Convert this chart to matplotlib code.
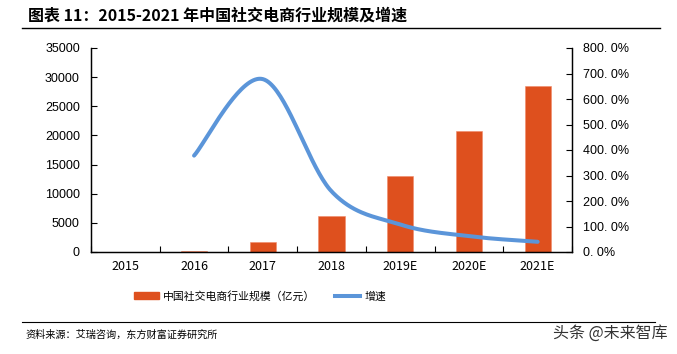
import matplotlib
matplotlib.use('Agg')
import matplotlib.pyplot as plt
import numpy as np
from matplotlib.patches import Patch
from matplotlib.lines import Line2D

plt.rcParams['font.family'] = ['Noto Sans CJK SC', 'DejaVu Sans']

years = ['2015', '2016', '2017', '2018', '2019E', '2020E', '2021E']
scale = [0, 150, 1770, 6230, 13100, 20760, 28480]       # 亿元
growth_years = ['2016', '2017', '2018', '2019E', '2020E', '2021E']
growth = [378, 678, 238, 108, 62, 40]                    # %

left_ticks = [0, 5000, 10000, 15000, 20000, 25000, 30000, 35000]
right_ticks = [0, 100, 200, 300, 400, 500, 600, 700, 800]

BAR = '#DE501E'
LINE = '#5B95D9'


def smooth(xs, ys, n=40):
    # catmull-rom through the points, like excel's smoothed line
    p = np.column_stack([xs, ys]).astype(float)
    p = np.vstack([p[0], p, p[-1]])
    out = []
    for i in range(1, len(p) - 2):
        p0, p1, p2, p3 = p[i - 1], p[i], p[i + 1], p[i + 2]
        b1 = p1 + (p2 - p0) / 6
        b2 = p2 - (p3 - p1) / 6
        t = np.linspace(0, 1, n)[:, None]
        seg = ((1 - t) ** 3 * p1 + 3 * (1 - t) ** 2 * t * b1
               + 3 * (1 - t) * t ** 2 * b2 + t ** 3 * p2)
        out.append(seg)
    out = np.vstack(out)
    return out[:, 0], out[:, 1]


fig = plt.figure(figsize=(6.77, 3.54), dpi=100)
ax1 = fig.add_axes([91 / 677, 1 - 252 / 354, 481 / 677, 204 / 354])
ax2 = ax1.twinx()

x = np.arange(len(years))
ax1.bar(x, scale, width=0.38, color=BAR, edgecolor='#F08A6A', linewidth=0.4, zorder=2)
ax1.set_xlim(-0.5, len(years) - 0.5)
ax1.set_ylim(0, 35000)
ax1.set_yticks(left_ticks)
ax1.set_yticklabels([str(v) for v in left_ticks], family=['Liberation Sans'], fontsize=9)

gx = [years.index(y) for y in growth_years]
sx, sy = smooth(gx, growth)
ax2.plot(sx, sy, color=LINE, lw=2.9, solid_capstyle='round', zorder=3)
ax2.set_ylim(0, 800)
ax2.set_yticks(right_ticks)
ax2.set_yticklabels([f'{v}. 0%' for v in right_ticks], family=['Liberation Sans'], fontsize=9)

ax1.set_xticks(np.arange(len(years) + 1) - 0.5, minor=False)
ax1.set_xticklabels([])
ax1.set_xticks(x, minor=True)
ax1.set_xticklabels(years, minor=True, fontsize=9)
ax1.tick_params(axis='x', which='major', direction='in', length=4, width=0.8)
ax1.tick_params(axis='x', which='minor', length=0, pad=6)
ax1.tick_params(axis='y', direction='in', length=4, width=0.8, pad=8)
ax2.tick_params(axis='y', direction='in', length=4, width=0.8, pad=8)

for a in (ax1, ax2):
    a.spines['top'].set_visible(False)
    for s in a.spines.values():
        s.set_linewidth(0.9)
        s.set_color('black')

# title and rules
fig.text(28 / 677, 1 - 16 / 354, '图表 11：2015-2021 年中国社交电商行业规模及增速',
         fontsize=11.5, fontweight='bold', va='center', ha='left')
fig.add_artist(Line2D([22 / 677, 660 / 677], [1 - 28 / 354] * 2, color='black', lw=1.0))
fig.add_artist(Line2D([22 / 677, 655 / 677], [1 - 322 / 354] * 2, color='black', lw=0.8))

handles = [Patch(facecolor=BAR, edgecolor=BAR),
           Line2D([0], [0], color=LINE, lw=2.9)]
fig.legend(handles, ['中国社交电商行业规模（亿元）', '增速'], loc='center',
           bbox_to_anchor=(260 / 677, 1 - 296 / 354), ncol=2, frameon=False,
           fontsize=7.8, handlelength=2.3, handleheight=0.6, handletextpad=0.4,
           columnspacing=1.8)

fig.text(25 / 677, 1 - 335 / 354, '资料来源：艾瑞咨询，东方财富证券研究所',
         fontsize=7.3, va='center', ha='left')
fig.text(668 / 677, 1 - 333 / 354, '头条 @未来智库', fontsize=11.5, color='#333333',
         va='center', ha='right')

fig.savefig('out.png', dpi=100)
